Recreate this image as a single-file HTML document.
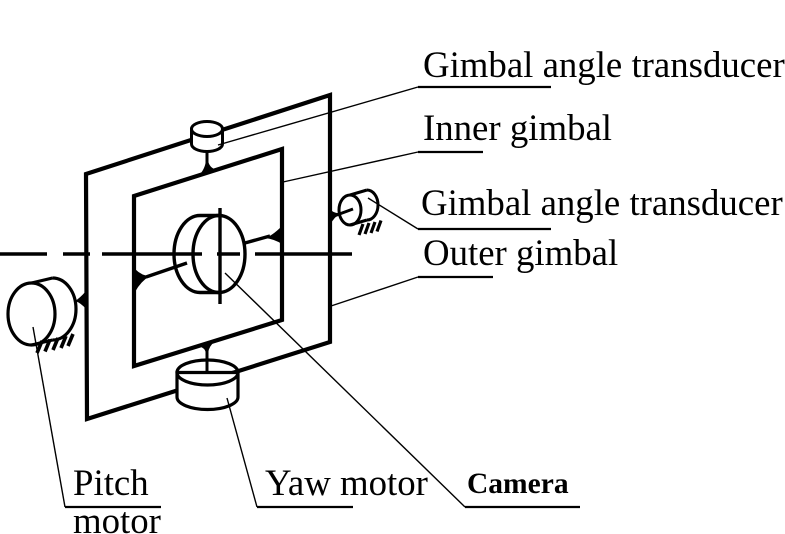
<!DOCTYPE html>
<html>
<head>
<meta charset="utf-8">
<style>
html,body{margin:0;padding:0;background:#fff;}
svg{display:block;}
text{font-family:"Liberation Serif",serif;fill:#000;}
</style>
</head>
<body>
<svg width="785" height="534" viewBox="0 0 785 534" xmlns="http://www.w3.org/2000/svg">
<rect width="785" height="534" fill="#fff"/>

<!-- axis dashes -->
<g stroke="#000" stroke-width="3.5" fill="none">
  <line x1="0" y1="254" x2="47" y2="254"/>
  <line x1="63" y1="254" x2="90" y2="254"/>
  <line x1="102" y1="254" x2="202" y2="254"/>
  <line x1="217" y1="254" x2="240" y2="254"/>
  <line x1="255" y1="254" x2="352" y2="254"/>
</g>

<!-- outer frame -->
<polygon points="86,174 330,95 330,342 87,419" fill="none" stroke="#000" stroke-width="4.2" stroke-linejoin="miter"/>
<!-- inner frame -->
<polygon points="134,196 282,149 282,320 134,366" fill="none" stroke="#000" stroke-width="4.2" stroke-linejoin="miter"/>

<!-- camera -->
<g stroke="#000" stroke-width="3.4" fill="none">
  <path d="M200,215.5 A26,38.5 0 0 0 200,292.5"/>
  <line x1="200" y1="215.5" x2="219" y2="215.5"/>
  <line x1="200" y1="292.5" x2="219" y2="292.5"/>
  <ellipse cx="219" cy="254" rx="26" ry="38.5"/>
  <line x1="220" y1="208" x2="220" y2="304"/>
  <!-- connectors -->
  <line x1="245" y1="243" x2="270" y2="236"/>
  <line x1="146" y1="277" x2="187" y2="263"/>
</g>
<path d="M282,226 Q272,236 265,238 Q274,239 282,244 Z" fill="#000"/>
<path d="M135,269 Q142,276 150,276 Q141,281 135,292 Z" fill="#000"/>

<!-- top transducer -->
<g stroke="#000" stroke-width="3" fill="#fff">
  <path d="M191.5,129 L191.5,144 A15.5,7.5 0 0 0 222.5,144 L222.5,129 Z"/>
  <ellipse cx="207" cy="129" rx="15.5" ry="7.5"/>
</g>
<line x1="207" y1="151" x2="207" y2="166" stroke="#000" stroke-width="3"/>
<path d="M198,176 Q205,170 206,160 L208,160 Q209,168 217,170 Z" fill="#000"/>

<!-- right transducer -->
<line x1="334" y1="216" x2="353" y2="209" stroke="#000" stroke-width="3"/>
<path d="M330,209 Q334,214 341,213 Q334,217 330,225 Z" fill="#000"/>
<g stroke="#000" stroke-width="3" fill="none">
  <path d="M367,190 A11,15 0 0 1 367,220"/>
  <line x1="350" y1="195" x2="367" y2="190"/>
  <line x1="350" y1="225" x2="367" y2="220"/>
  <ellipse cx="350" cy="210" rx="11" ry="15"/>
</g>
<g stroke="#000" stroke-width="3.2">
  <line x1="363" y1="224" x2="359" y2="235"/>
  <line x1="369" y1="223" x2="365" y2="234"/>
  <line x1="375" y1="222" x2="371" y2="233"/>
  <line x1="381" y1="220.5" x2="377" y2="231.5"/>
</g>

<!-- pitch motor -->
<path d="M86,291 Q80,298 75,301 Q81,303 86,309 Z" fill="#000"/>
<g stroke="#000" stroke-width="3.2" fill="none">
  <path d="M52.5,278 A23.5,31 0 0 1 52.5,340"/>
  <line x1="31.5" y1="283" x2="52.5" y2="278"/>
  <line x1="31.5" y1="345" x2="52.5" y2="340"/>
  <ellipse cx="31.5" cy="314" rx="23.5" ry="31"/>
</g>
<g stroke="#000" stroke-width="3.6">
  <line x1="42" y1="341" x2="37" y2="353"/>
  <line x1="50" y1="339.5" x2="45" y2="351.5"/>
  <line x1="58" y1="338" x2="53" y2="350"/>
  <line x1="66" y1="336" x2="61" y2="348"/>
  <line x1="73" y1="334" x2="68" y2="346"/>
</g>

<!-- yaw motor -->
<path d="M199,346 Q205,348 206,353 L208,353 Q209,346 216,340 Z" fill="#000"/>
<line x1="207" y1="350" x2="207" y2="372" stroke="#000" stroke-width="3"/>
<g stroke="#000" stroke-width="3.2" fill="#fff">
  <path d="M177,372.5 L177,397 A30.5,12.5 0 0 0 238,397 L238,372.5 Z"/>
  <ellipse cx="207.5" cy="372.5" rx="30.5" ry="12.5" fill="none"/>
</g>
<line x1="207" y1="350" x2="207" y2="372" stroke="#000" stroke-width="3"/>

<!-- leader lines -->
<g stroke="#000" stroke-width="1.4" fill="none">
  <polyline points="218,145 418,87"/>
  <polyline points="283,182 418,152"/>
  <polyline points="368,198 418,229"/>
  <polyline points="331,306 418,277"/>
  <polyline points="33,327 65,507"/>
  <polyline points="227,398 257,507"/>
  <polyline points="225,273 465,507"/>
</g>
<g stroke="#000" stroke-width="2.2">
  <line x1="418" y1="87" x2="551" y2="87"/>
  <line x1="418" y1="152" x2="483" y2="152"/>
  <line x1="418" y1="229" x2="551" y2="229"/>
  <line x1="418" y1="277" x2="493" y2="277"/>
  <line x1="65" y1="507" x2="161" y2="507"/>
  <line x1="257" y1="507" x2="353" y2="507"/>
  <line x1="465" y1="507" x2="580" y2="507"/>
</g>

<!-- labels -->
<g font-size="36.8">
  <text x="423" y="77">Gimbal angle transducer</text>
  <text x="423" y="140">Inner gimbal</text>
  <text x="421" y="215">Gimbal angle transducer</text>
  <text x="423" y="265">Outer gimbal</text>
  <text x="73" y="495">Pitch</text>
  <text x="73" y="533">motor</text>
  <text x="265" y="495">Yaw motor</text>
</g>
<text x="467" y="493" font-size="29.5" font-weight="bold">Camera</text>
</svg>
</body>
</html>
